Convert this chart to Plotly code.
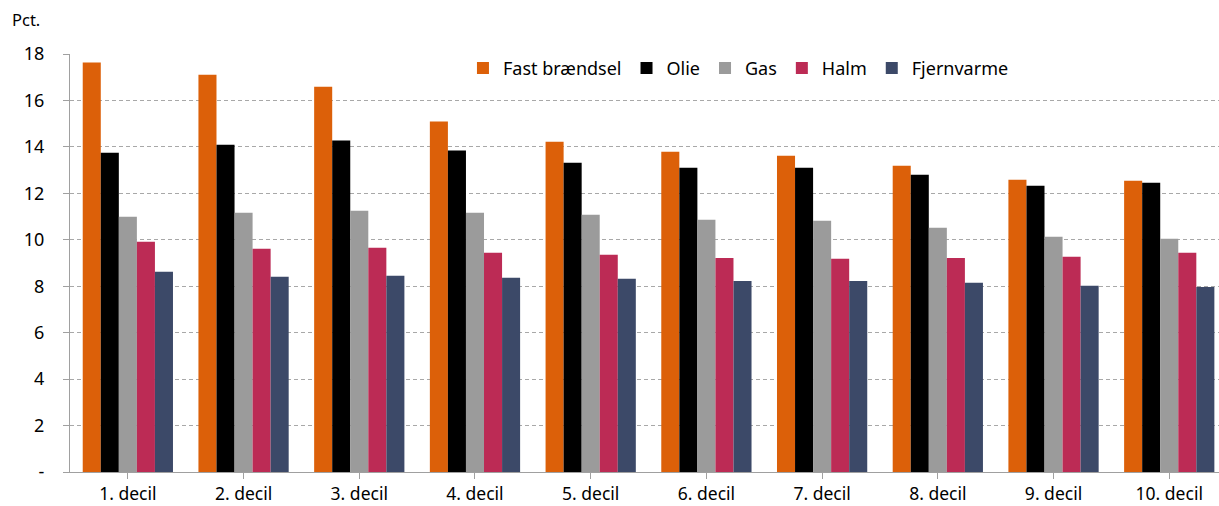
import plotly.graph_objects as go

categories = ["1. decil", "2. decil", "3. decil", "4. decil", "5. decil",
              "6. decil", "7. decil", "8. decil", "9. decil", "10. decil"]
fast = [17.63, 17.11, 16.59, 15.09, 14.22, 13.79, 13.62, 13.19, 12.59, 12.54]
olie = [13.75, 14.09, 14.27, 13.84, 13.32, 13.10, 13.10, 12.80, 12.33, 12.46]
gas = [10.99, 11.16, 11.25, 11.16, 11.08, 10.86, 10.82, 10.52, 10.13, 10.04]
halm = [9.91, 9.61, 9.66, 9.44, 9.35, 9.22, 9.18, 9.22, 9.27, 9.44]
fjern = [8.62, 8.41, 8.45, 8.36, 8.32, 8.23, 8.23, 8.15, 8.02, 7.97]

series = [("Fast brændsel", fast, "#DC6009"),
          ("Olie", olie, "#000000"),
          ("Gas", gas, "#9B9B9B"),
          ("Halm", halm, "#BC2B55"),
          ("Fjernvarme", fjern, "#3C4968")]

font = "Noto Sans"
fig = go.Figure()
for name, vals, col in series:
    fig.add_trace(go.Bar(x=list(range(len(categories))), y=vals, name=name,
                         marker=dict(color=col, line=dict(width=0))))

fig.update_layout(
    width=1219, height=506,
    margin=dict(l=70, r=0, t=54, b=34),
    plot_bgcolor="white", paper_bgcolor="white",
    barmode="group", bargap=0.22, bargroupgap=0,
    font=dict(family=font, size=18, color="#000000"),
    legend=dict(orientation="h", x=0.342, y=1.01, xanchor="left", yanchor="top",
                font=dict(size=18), bgcolor="rgba(0,0,0,0)",
                itemwidth=30, tracegroupgap=0),
    xaxis=dict(range=[-0.5, 9.43], tickmode="array",
               tickvals=list(range(len(categories))), ticktext=categories,
               ticks="outside", tickson="boundaries", ticklen=6,
               tickcolor="#A0A0A0", showline=True, linecolor="#A0A0A0",
               linewidth=1, showgrid=False, zeroline=False,
               tickfont=dict(size=17.5)),
    yaxis=dict(range=[0, 18], tickmode="array",
               tickvals=[0, 2, 4, 6, 8, 10, 12, 14, 16, 18],
               ticktext=["-", "2", "4", "6", "8", "10", "12", "14", "16", "18"],
               ticks="outside", ticklen=6, tickcolor="#A0A0A0",
               showline=True, linecolor="#A0A0A0", linewidth=1,
               showgrid=True, gridcolor="#A8A8A8", griddash="4px,3px",
               gridwidth=1, zeroline=False, tickfont=dict(size=18),
               ticklabelstandoff=15),
    annotations=[dict(text="Pct.", xref="paper", yref="paper", x=-0.052, y=1.05,
                      xanchor="left", yanchor="bottom", showarrow=False,
                      font=dict(size=16.5))],
)
fig.write_html("out.html")
